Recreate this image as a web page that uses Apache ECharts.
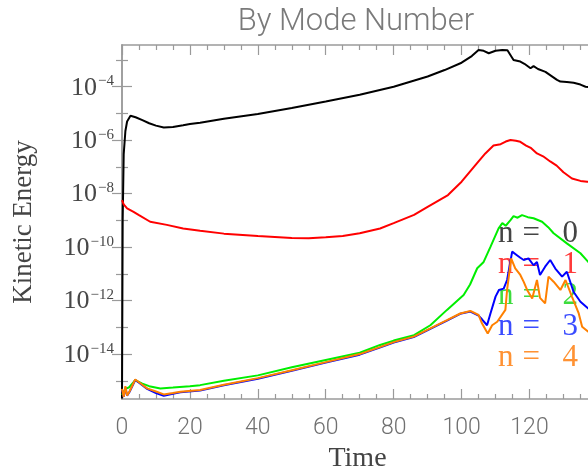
<!DOCTYPE html>
<html>
<head>
<meta charset="utf-8">
<script src="https://cdn.jsdelivr.net/npm/echarts@6/dist/echarts.min.js"></script>
<style>
  html, body { margin: 0; padding: 0; background: #fff; }
  #chart { width: 588px; height: 470px; }
</style>
</head>
<body>
<div id="chart"></div>
<script>
// Kinetic energy of each toroidal mode number versus time (log scale)
const modeLabels = ['n=  0', 'n=  1', 'n=  2', 'n=  3', 'n=  4'];
const modeColors = ['#000000', '#ff0000', '#00ee00', '#0000ff', '#ff8000'];
const modeTextColors = ['#444444', '#ff3a3a', '#3ddc3d', '#3a4cff', '#ff9233'];

const xTickLabels = [0, 20, 40, 60, 80, 100, 120];
const yTickLabels = [1e-14, 1e-12, 1e-10, 1e-8, 1e-6, 1e-4];

const timeN0 = [0, 0.2, 0.5, 1, 1.5, 2.5, 4, 6, 8, 10, 12.3, 15, 18, 20, 23, 30, 40, 50, 60, 70,
  80, 90, 95, 100, 103, 105, 106.5, 108, 110, 112, 113.5, 115.3, 117.3, 118.5, 120.3, 121.2,
  122.5, 124.7, 126.5, 128.1, 129.1, 131, 133, 135, 136.5, 138.7];
const energyN0 = [2.2e-16, 1e-9, 3e-7, 2.2e-6, 5e-6, 8.2e-6, 7.2e-6, 5.6e-6, 4.3e-6, 3.5e-6,
  3.0e-6, 3.1e-6, 3.6e-6, 4.0e-6, 4.5e-6, 6.3e-6, 9.5e-6, 1.6e-5, 2.8e-5, 5.0e-5,
  1.0e-4, 2.4e-4, 4.2e-4, 7.9e-4, 1.4e-3, 2.35e-3, 2.2e-3, 1.78e-3, 2.2e-3, 2.35e-3, 2.3e-3,
  1.0e-3, 8.7e-4, 7.2e-4, 4.9e-4, 5.9e-4, 4.6e-4, 3.6e-4, 2.5e-4, 1.8e-4, 1.55e-4, 1.5e-4,
  1.4e-4, 1.2e-4, 1.0e-4, 9.5e-5];

const timeN1 = [0, 0.5, 1.5, 3.4, 5, 8.3, 13.2, 18, 23, 30, 40, 50, 55, 60, 65, 70, 76, 80, 86, 90,
  96, 100, 104.5, 107, 109.4, 111.5, 113, 114.4, 116, 117.3, 119, 120.5, 122.2, 124, 126.1, 128,
  130, 132.5, 135, 137, 138.7];
const energyN1 = [5.75e-9, 3.98e-9, 2.82e-9, 2.09e-9, 1.58e-9, 8.9e-10, 6.8e-10, 5.0e-10, 4.1e-10,
  3.2e-10, 2.6e-10, 2.2e-10, 2.15e-10, 2.35e-10, 2.6e-10, 3.3e-10, 5.0e-10, 7.9e-10, 1.6e-9, 3.2e-9,
  8.9e-9, 2.8e-8, 1.35e-7, 3.2e-7, 6.3e-7, 7.1e-7, 8.9e-7, 1.02e-6, 9.5e-7, 8.7e-7, 6.3e-7, 5.0e-7,
  3.2e-7, 2.5e-7, 1.6e-7, 1.12e-7, 6.3e-8, 3.7e-8, 3.0e-8, 2.8e-8, 2.7e-8];

const timeN2 = [0, 1, 2, 3.9, 6, 8, 11.3, 15, 20, 23, 30, 40, 50, 60, 70, 76, 80, 86, 90.8, 95.7,
  100.6, 102.5, 104.6, 106.5, 108.5, 110.9, 112, 113, 114.4, 115.3, 116.5, 117.8, 119.5, 121.2,
  123.7, 125.5, 127.1, 131, 135, 137.3, 138.7];
const energyN2 = [2.95e-16, 5.0e-16, 5.6e-16, 1.05e-15, 7.9e-16, 6.3e-16, 5.2e-16, 5.6e-16, 6.3e-16,
  6.9e-16, 1.0e-15, 1.6e-15, 3.2e-15, 6.0e-15, 1.12e-14, 2.2e-14, 3.2e-14, 5.1e-14, 1.2e-13, 4.5e-13,
  1.62e-12, 4.0e-12, 1.62e-11, 2.8e-11, 1.02e-10, 5.0e-10, 7.9e-10, 6.3e-10, 1.02e-9, 1.45e-9,
  1.26e-9, 1.58e-9, 1.32e-9, 1.2e-9, 8.9e-10, 5.6e-10, 3.3e-10, 1.38e-10, 5.9e-11, 2.8e-11, 2.0e-11];

const timeN3 = [0, 0.5, 1, 1.5, 2.2, 3.9, 5.5, 7.4, 10, 12.3, 15, 17.2, 23, 30, 40, 50, 60, 70, 76.1,
  80, 85.9, 90.8, 95.7, 99.6, 102.6, 105, 106, 107.5, 108.5, 110, 111, 112.4, 113.4, 114.9, 116.3,
  117.3, 118.3, 119.7, 121.2, 122.2, 123.1, 124.6, 126.1, 127.6, 129.6, 131, 133, 135, 137.3, 138.7];
const energyN3 = [4.5e-16, 2.5e-16, 5.6e-16, 2.8e-16, 3.8e-16, 1.07e-15, 7.6e-16, 5.0e-16, 3.5e-16,
  2.75e-16, 3.3e-16, 3.7e-16, 4.3e-16, 6.8e-16, 1.2e-15, 2.4e-15, 4.8e-15, 9.5e-15, 1.78e-14, 2.7e-14,
  4.3e-14, 8.7e-14, 1.78e-13, 3.2e-13, 3.9e-13, 2.75e-13, 2.0e-13, 1.2e-13, 3.3e-13, 1.41e-12,
  2.5e-12, 2.8e-12, 5.9e-12, 6.8e-11, 5.0e-11, 4.0e-11, 3.3e-11, 3.8e-11, 2.1e-11, 2.8e-11, 9.1e-12,
  1.86e-11, 3.3e-11, 1.58e-11, 7.9e-12, 1.2e-11, 2.1e-12, 9.1e-13, 5.1e-13, 4.5e-13];

const timeN4 = [0, 0.5, 1, 1.5, 2.2, 3.9, 5.5, 7.4, 10, 12.3, 15, 17.2, 23, 30, 40, 50, 60, 70, 76.1,
  80, 85.9, 90.8, 95.7, 99.6, 102.6, 105, 106, 107.7, 109, 110.5, 112.9, 113.4, 114.6, 115.8, 117.3,
  118.3, 119.3, 120.8, 122.2, 123.1, 124.6, 125.6, 127.1, 129.1, 130.6, 132.5, 134.5, 135.5, 137.3, 138.7];
const energyN4 = [5.0e-16, 2.5e-16, 6.3e-16, 2.8e-16, 4.0e-16, 1.12e-15, 7.9e-16, 5.2e-16, 4.0e-16,
  3.1e-16, 3.5e-16, 3.9e-16, 4.5e-16, 7.1e-16, 1.26e-15, 2.5e-15, 5.0e-15, 1.0e-14, 1.86e-14, 2.8e-14,
  4.5e-14, 9.1e-14, 1.86e-13, 3.3e-13, 4.1e-13, 2.9e-13, 1.41e-13, 5.9e-14, 1.2e-13, 1.62e-13, 4.5e-13,
  2.5e-12, 3.8e-11, 1.62e-11, 9.1e-12, 5.0e-12, 2.5e-12, 1.2e-12, 5.9e-12, 1.26e-12, 7.9e-13, 7.9e-12,
  5.1e-12, 2.5e-12, 5.9e-12, 1.41e-12, 3.3e-13, 1.05e-13, 6.8e-14, 1.0e-13];

const modeTimes = [timeN0, timeN1, timeN2, timeN3, timeN4];
const modeEnergies = [energyN0, energyN1, energyN2, energyN3, energyN4];

// axis ranges
const timeMin = 0, timeMax = 138.7;
const energyMin = 2.09e-16, energyMax = 3.63e-3;

const axisGray = '#9a9a9a';
const xMinorTicks = [];
for (let t = 5; t < timeMax; t += 5) if (t % 20 !== 0) xMinorTicks.push(t);
const yMinorTicks = [1e-15, 1e-13, 1e-11, 1e-9, 1e-7, 1e-5, 1e-3];

function xAxisDef(pos, major) {
  return {
    type: 'value', position: pos, min: timeMin, max: timeMax,
    axisLine: { show: major, lineStyle: { color: axisGray, width: 1.5 } },
    splitLine: { show: false },
    axisTick: { show: true, inside: true, length: major ? 10 : 5,
      customValues: major ? xTickLabels : xMinorTicks,
      lineStyle: { color: axisGray, width: 1.2 } },
    axisLabel: { show: false }
  };
}
function yAxisDef(pos, major) {
  return {
    type: 'log', logBase: 10, position: pos, min: energyMin, max: energyMax,
    axisLine: { show: major, lineStyle: { color: axisGray, width: 1.5 } },
    splitLine: { show: false },
    axisTick: { show: true, inside: true, length: major ? 10 : 6,
      customValues: major ? yTickLabels : yMinorTicks,
      lineStyle: { color: axisGray, width: 1.2 } },
    axisLabel: { show: false }
  };
}

const xAxes = [xAxisDef('bottom', true), xAxisDef('bottom', false), xAxisDef('top', true), xAxisDef('top', false)];
xAxes[0].axisLabel = {
  show: true, customValues: xTickLabels, margin: 18,
  fontFamily: 'Roboto', fontWeight: 300, fontSize: 23, color: '#707070'
};
xAxes[0].name = 'Time';
xAxes[0].nameLocation = 'middle';
xAxes[0].nameGap = 43;
xAxes[0].nameTextStyle = { fontFamily: 'Liberation Serif', fontSize: 28, color: '#444' };

const yAxes = [yAxisDef('left', true), yAxisDef('left', false), yAxisDef('right', true), yAxisDef('right', false)];
yAxes[0].axisLabel = {
  show: true, customValues: yTickLabels, margin: 8,
  formatter: function (v) {
    const p = Math.round(Math.log10(v));
    return '{b|10}{s|' + String(p).replace('-', '\u2212') + '}';
  },
  rich: {
    b: { fontFamily: 'Liberation Serif', fontSize: 26, lineHeight: 26, color: '#474747', padding: [2, 0, 0, 0] },
    s: { fontFamily: 'Liberation Serif', fontSize: 15, lineHeight: 15, color: '#474747', verticalAlign: 'top', padding: [0, 0, 0, 1] }
  }
};
yAxes[0].name = 'Kinetic Energy';
yAxes[0].nameLocation = 'middle';
yAxes[0].nameGap = 85;
yAxes[0].nameTextStyle = { fontFamily: 'Liberation Serif', fontSize: 27, color: '#444' };

const series = modeLabels.map(function (label, i) {
  return {
    name: label, type: 'line', xAxisIndex: 0, yAxisIndex: 0,
    data: modeTimes[i].map(function (t, j) { return [t, modeEnergies[i][j]]; }),
    showSymbol: false, symbol: 'none', clip: true,
    lineStyle: { color: modeColors[i], width: 2 },
    itemStyle: { color: modeColors[i] },
    z: 3 + i
  };
});

const legendRich = {
  a: { fontFamily: 'Liberation Serif', fontSize: 31, width: 24.5, lineHeight: 28.8 },
  b: { fontFamily: 'Liberation Serif', fontSize: 31, width: 40, lineHeight: 28.8 },
  c: { fontFamily: 'Liberation Serif', fontSize: 31, lineHeight: 28.8 }
};

const chart = echarts.init(document.getElementById('chart'), null, { renderer: 'canvas' });
chart.setOption({
  animation: false,
  backgroundColor: '#ffffff',
  title: {
    text: 'By Mode Number', left: 356, top: 7, padding: 0, textAlign: 'center',
    textStyle: { fontFamily: 'Roboto', fontWeight: 300, fontSize: 31, color: '#7a7a7a' }
  },
  grid: { left: 122, right: -5, top: 45, bottom: 71, containLabel: false, outerBoundsMode: 'none' },
  xAxis: xAxes,
  yAxis: yAxes,
  legend: {
    orient: 'vertical', left: 493, top: 218, padding: 0, itemGap: 0,
    itemWidth: 0, itemHeight: 0, icon: 'rect', z: 1, selectedMode: false,
    data: modeLabels.map(function (label, i) {
      return { name: label, textStyle: { color: modeTextColors[i] } };
    }),
    formatter: function (name) {
      return '{a|n}{b|=}{c|' + name.slice(-1) + '}';
    },
    textStyle: { rich: legendRich }
  },
  series: series
});
</script>
</body>
</html>
